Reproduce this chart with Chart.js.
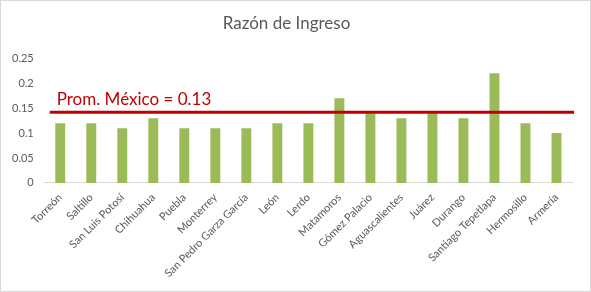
<!DOCTYPE html>
<html>
<head>
<meta charset="utf-8">
<script src="https://cdn.jsdelivr.net/npm/chart.js@4"></script>
<style>
  html, body { margin: 0; padding: 0; background: #fff; }
  #wrap { position: relative; width: 589px; height: 290px; border: 1px solid #d9d9d9; }
</style>
</head>
<body>
<div id="wrap"><canvas id="ingresoChart"></canvas></div>
<script>
var cities = ["Torreón", "Saltillo", "San Luis Potosí", "Chihuahua", "Puebla", "Monterrey",
    "San Pedro Garza García", "León", "Lerdo", "Matamoros", "Gómez Palacio", "Aguascalientes",
    "Juárez", "Durango", "Santiago Tepetlapa", "Hermosillo", "Armería"];
var razon = [0.12, 0.12, 0.11, 0.13, 0.11, 0.11, 0.11, 0.12, 0.12, 0.17, 0.14, 0.13,
    0.14, 0.13, 0.22, 0.12, 0.10];
var yTicks = [0, 0.05, 0.1, 0.15, 0.2, 0.25];
var promMexico = [0.142];
var promLabel = "Prom. México = 0.13";

// red average line + its text, drawn through the y scale
var promLine = {
    id: "promLine",
    afterDatasetsDraw: function (chart) {
        var c = chart.ctx;
        var area = chart.chartArea;
        var y = chart.scales.y.getPixelForValue(promMexico[0]);
        c.save();
        c.strokeStyle = "#c00000";
        c.lineWidth = 3;
        c.beginPath();
        c.moveTo(area.left + 5, y);
        c.lineTo(area.right + 2, y);
        c.stroke();
        c.fillStyle = "#c00000";
        c.font = "17px Lato";
        c.textBaseline = "bottom";
        c.fillText(promLabel, area.left + 12, y - 4);
        c.restore();
    }
};

var ctxx = document.getElementById("ingresoChart").getContext("2d");

var myChart = new Chart(ctxx, {
    type: "bar",
    data: {
        labels: cities,
        datasets: [
            {
                label: "Razón de Ingreso",
                data: razon,
                backgroundColor: "#9bbb59",
                barPercentage: 0.32,
                categoryPercentage: 1,
            },
        ],
    },
    options: {
        responsive: true,
        maintainAspectRatio: false,
        animation: false,
        layout: {
            padding: { left: 0, right: 18, top: 4, bottom: 11 },
        },
        scales: {
            x: {
                grid: {
                    display: false,
                },
                border: {
                    color: "#d9d9d9",
                },
                ticks: {
                    color: "#595959",
                    font: { family: "Lato", size: 11 },
                    minRotation: 45,
                    maxRotation: 45,
                    autoSkip: false,
                    padding: 0,
                },
                afterFit: function (axis) {
                    // let the first rotated label hang left like the original
                    axis.paddingLeft = 0;
                    axis.paddingRight = 0;
                },
            },
            y: {
                min: 0,
                max: 0.25,
                afterBuildTicks: function (axis) {
                    axis.ticks = yTicks.map(function (v) { return { value: v }; });
                },
                grid: {
                    display: false,
                    drawTicks: false,
                },
                border: {
                    display: false,
                },
                ticks: {
                    color: "#595959",
                    font: { family: "Lato", size: 11 },
                    padding: 11,
                    callback: function (v) { return String(Math.round(v * 100) / 100); },
                },
            },
        },
        plugins: {
            legend: {
                display: false,
            },
            title: {
                display: true,
                text: "Razón de Ingreso",
                color: "#595959",
                font: { family: "Lato", size: 17, weight: "normal" },
                padding: { top: 8, bottom: 25 },
            },
            tooltip: {
                enabled: true,
            },
        },
    },
    plugins: [promLine],
});
</script>
</body>
</html>
